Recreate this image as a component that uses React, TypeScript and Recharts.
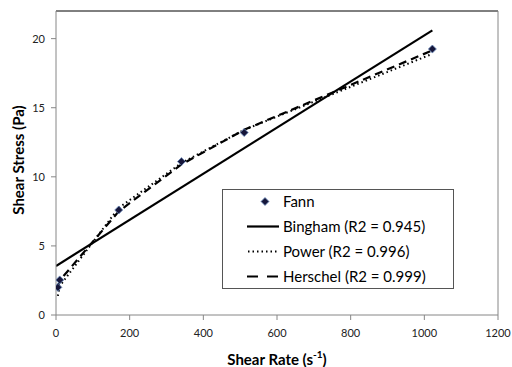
import {
  ComposedChart,
  Line,
  Scatter,
  XAxis,
  YAxis,
  ReferenceLine,
  Label,
} from 'recharts';

// Fann viscometer readings
const fannRates = [5.1, 10.2, 170.3, 340.6, 510.9, 1021.8];
const fannStress = [2.0, 2.54, 7.6, 11.1, 13.2, 19.25];

// Bingham fit (straight line)
const binghamRates = [0, 1021.8];
const binghamStress = [3.55, 20.6];

// Power law and Herschel-Bulkley fits at the Fann rates
const powerStress = [1.38, 2.1, 7.75, 11.0, 13.4, 18.9];
const herschelStress = [2.0, 2.5, 7.5, 10.9, 13.4, 19.15];

const xTicks = [0, 200, 400, 600, 800, 1000, 1200];
const yTicks = [0, 5, 10, 15, 20];

const fannData = fannRates.map((x, i) => ({ x, y: fannStress[i] }));
const binghamData = binghamRates.map((x, i) => ({ x, y: binghamStress[i] }));
const powerData = fannRates.map((x, i) => ({ x, y: powerStress[i] }));
const herschelData = fannRates.map((x, i) => ({ x, y: herschelStress[i] }));

const FONT = 'Lato, "Open Sans", sans-serif';
const AXIS_GRAY = '#868686';

function Diamond(props: any) {
  const { cx, cy } = props;
  const r = 4;
  return (
    <polygon
      points={`${cx},${cy - r} ${cx + r},${cy} ${cx},${cy + r} ${cx - r},${cy}`}
      fill="#16163a"
      stroke="#6f8fc0"
      strokeWidth={0.8}
    />
  );
}

function FitLegend() {
  const rows = [
    { label: 'Fann', kind: 'marker' },
    { label: 'Bingham (R2 = 0.945)', kind: 'solid' },
    { label: 'Power (R2 = 0.996)', kind: 'dot' },
    { label: 'Herschel (R2 = 0.999)', kind: 'dash' },
  ];
  return (
    <svg width={232} height={100} style={{ display: 'block' }}>
      <rect x={0.5} y={0.5} width={231} height={99} fill="#fff" stroke="#555" strokeWidth={1} />
      {rows.map((r, i) => {
        const y = 12.5 + i * 25;
        return (
          <g key={r.label}>
            {r.kind === 'marker' && <Diamond cx={43} cy={y} />}
            {r.kind === 'solid' && (
              <line x1={25} x2={57} y1={y} y2={y} stroke="#000" strokeWidth={2.2} />
            )}
            {r.kind === 'dot' && (
              <line x1={26} x2={57} y1={y} y2={y} stroke="#000" strokeWidth={2} strokeDasharray="1.5 3" />
            )}
            {r.kind === 'dash' && (
              <line x1={25} x2={57} y1={y} y2={y} stroke="#000" strokeWidth={2.2} strokeDasharray="11 9" />
            )}
            <text x={61} y={y} dy="0.35em" fontSize={15} fontFamily={FONT} fill="#000">
              {r.label}
            </text>
          </g>
        );
      })}
    </svg>
  );
}

export default function App() {
  return (
    <div style={{ position: 'absolute', left: 0, top: 0, width: 512, height: 367, background: '#fff' }}>
      <ComposedChart
        width={512}
        height={367}
        margin={{ top: 11, right: 14, left: 0, bottom: 22 }}
      >
        <XAxis
          type="number"
          dataKey="x"
          domain={[0, 1200]}
          ticks={xTicks}
          allowDataOverflow
          stroke={AXIS_GRAY}
          tickSize={5}
          tickMargin={9}
          tick={{ fill: '#222', fontSize: 11, fontFamily: FONT }}
        >
          <Label
            content={() => (
              <text x={277} y={359} textAnchor="middle" dominantBaseline="central" fontFamily={FONT} fontWeight="bold" fontSize={15} fill="#000">
                <tspan>Shear Rate (s</tspan>
                <tspan dy={-5} fontSize={10}>-1</tspan>
                <tspan dy={5}>)</tspan>
              </text>
            )}
          />
        </XAxis>
        <YAxis
          type="number"
          dataKey="y"
          domain={[0, 22]}
          ticks={yTicks}
          width={56}
          stroke={AXIS_GRAY}
          tickSize={5}
          tickMargin={6}
          tick={{ fill: '#222', fontSize: 11, fontFamily: FONT }}
        >
          <Label
            content={() => (
              <text
                x={18}
                y={160}
                transform="rotate(-90 18 160)"
                textAnchor="middle"
                dominantBaseline="central"
                fontFamily={FONT}
                fontWeight="bold"
                fontSize={15}
                fill="#000"
              >
                Shear Stress (Pa)
              </text>
            )}
          />
        </YAxis>
        <ReferenceLine y={22} stroke="#000" strokeWidth={1} />
        <ReferenceLine x={1200} stroke={AXIS_GRAY} strokeWidth={1} />

        <Line
          data={binghamData}
          dataKey="y"
          name="Bingham"
          type="linear"
          stroke="#000"
          strokeWidth={2.2}
          dot={false}
          activeDot={false}
          isAnimationActive={false}
        />
        <Line
          data={powerData}
          dataKey="y"
          name="Power"
          type="linear"
          stroke="#000"
          strokeWidth={2}
          strokeDasharray="1.5 3"
          dot={false}
          activeDot={false}
          isAnimationActive={false}
        />
        <Line
          data={herschelData}
          dataKey="y"
          name="Herschel"
          type="linear"
          stroke="#000"
          strokeWidth={2.2}
          strokeDasharray="8 5"
          dot={false}
          activeDot={false}
          isAnimationActive={false}
        />
        <Scatter
          data={fannData}
          dataKey="y"
          name="Fann"
          shape={<Diamond />}
          isAnimationActive={false}
        />
      </ComposedChart>
      <div style={{ position: 'absolute', left: 222, top: 189 }}>
        <FitLegend />
      </div>
    </div>
  );
}
